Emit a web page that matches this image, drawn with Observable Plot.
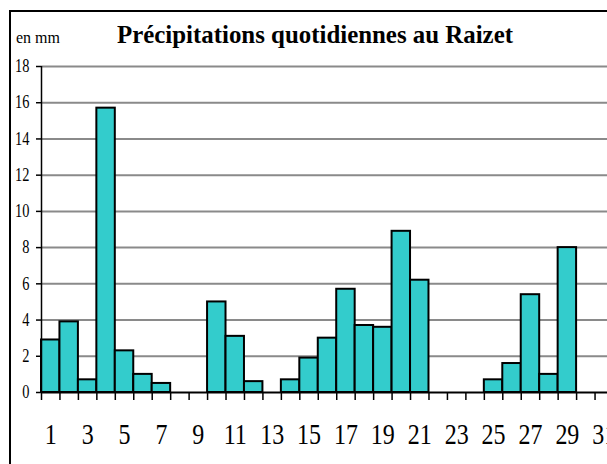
<!DOCTYPE html>
<html><head><meta charset="utf-8">
<script src="https://cdn.jsdelivr.net/npm/d3@7"></script>
<script src="https://cdn.jsdelivr.net/npm/@observablehq/plot@0.6"></script>
<style>
html,body{margin:0;padding:0;overflow:hidden;background:#fff;width:607px;height:464px;}
#frame{position:absolute;left:9px;top:10px;width:660px;height:520px;border:2px solid #000;}
.lbl{position:absolute;white-space:nowrap;font-family:"Liberation Serif","Times New Roman",serif;color:#000;transform-origin:0 0;line-height:1;}
#unit{left:16px;top:29px;font-size:17px;}
#title{left:117px;top:22px;font-size:25px;font-weight:bold;}
#chart{position:absolute;left:0;top:0;width:625px;height:464px;}
#chart svg{max-width:none !important;width:625px !important;height:464px !important;}
#chart svg text{font-family:"Liberation Serif","Times New Roman",serif !important;fill:#000;}
</style></head>
<body>
<div id="frame"></div>
<div id="unit" class="lbl">en mm</div>
<div id="title" class="lbl">Précipitations quotidiennes au Raizet</div>
<div id="chart"></div>
<script>
const days = [1,2,3,4,5,6,7,8,9,10,11,12,13,14,15,16,17,18,19,20,21,22,23,24,25,26,27,28,29,30,31];
const rain = [2.9,3.9,0.7,15.7,2.3,1.0,0.5,0,0,5.0,3.1,0.6,0,0.7,1.9,3.0,5.7,3.7,3.6,8.9,6.2,0,0,0,0.7,1.6,5.4,1.0,8.0,0,0];
const yTicks = [0,2,4,6,8,10,12,14,16,18];
const xLabels = [1,3,5,7,9,11,13,15,17,19,21,23,25,27,29,31];

const data = days.map((d,i)=>({day:d, mm:rain[i]}));
const bounds = days.map(d=>d-0.5).concat([days[days.length-1]+0.5]);

const chart = Plot.plot({
  width: 625, height: 464,
  marginLeft: 41, marginRight: 12, marginTop: 66, marginBottom: 72,
  style: {fontFamily: "Liberation Serif, serif", color:"#000", background:"transparent", overflow:"visible", maxWidth:"none"},
  x: {domain:[0.5, 31.5]},
  y: {domain:[0, 18]},
  marks: [
    Plot.ruleY(yTicks.filter(v=>v>0), {stroke:"#8a8a8a", strokeWidth:2}),
    Plot.rectY(data.filter(d=>d.mm>0), {x1:d=>d.day-0.5, x2:d=>d.day+0.5, y1:0, y2:"mm", fill:"#33CCCC", stroke:"#000", strokeWidth:2}),
    Plot.ruleX([0.5], {y1:0, y2:18, stroke:"#000", strokeWidth:1.5}),
    Plot.ruleY([0], {stroke:"#000", strokeWidth:2}),
    Plot.axisY({ticks: yTicks, tickSize:5, tickPadding:7, fontSize:18, stroke:"#000", strokeWidth:1.5, label:null, tickFormat:d=>String(d)}),
    Plot.axisX({ticks: bounds, tickSize:8, stroke:"#000", strokeWidth:1.5, tickFormat:()=>"", label:null}),
    Plot.axisX({ticks: xLabels, tickSize:0, tickPadding:30, fontSize:30, label:null, tickFormat:d=>String(d)})
  ]
});
document.getElementById("chart").appendChild(chart);

// condensed look of the original typeface
const sx = 0.8;
chart.querySelectorAll("text").forEach(t=>{
  const tr = t.getAttribute("transform")||"";
  t.setAttribute("transform", `${tr} scale(${sx},1)`);
});
function fit(id, w){ const el=document.getElementById(id); const r=el.getBoundingClientRect(); el.style.transform=`scaleX(${w/r.width})`; }
fit("title", 396);
fit("unit", 44);
</script>
</body></html>
